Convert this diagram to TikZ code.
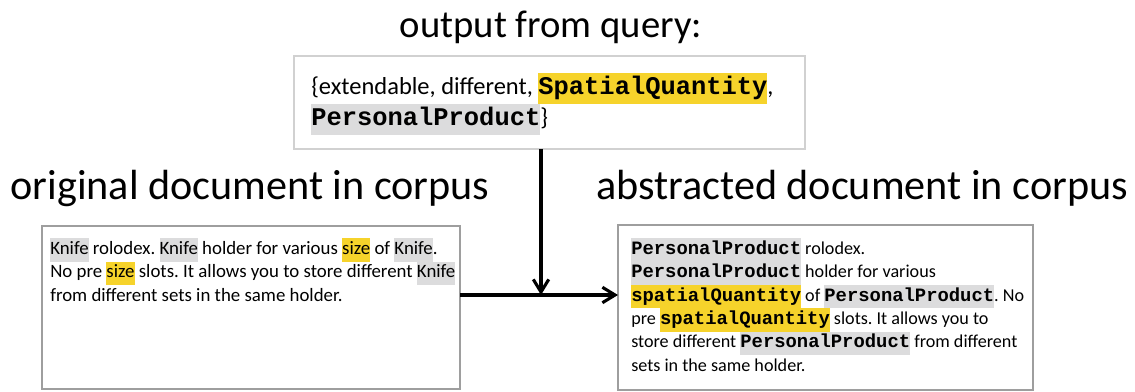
\documentclass[tikz,border=0pt]{standalone}
\usepackage{fontspec}
\setmainfont{Carlito}
\setmonofont[Scale=1.04]{Liberation Mono}
\usepackage{xcolor}
\usetikzlibrary{calc}
\usetikzlibrary{arrows.meta}
\tikzset{>={Straight Barb[length=9pt,width=11pt]}}
\frenchspacing

\definecolor{hlyellow}{HTML}{F6D32B}
\definecolor{hlgray}{HTML}{DCDCDD}
\setlength{\fboxsep}{0pt}
\newcommand{\gs}[1]{\colorbox{hlgray}{\strut #1}}
\newcommand{\ys}[1]{\colorbox{hlyellow}{\strut #1}}
\newcommand{\gm}[1]{\colorbox{hlgray}{\strut\texttt{\textbf{#1}}}}
\newcommand{\ym}[1]{\colorbox{hlyellow}{\strut\texttt{\textbf{#1}}}}

\begin{document}
\begin{tikzpicture}[x=0.025cm, y=-0.025cm]

	\useasboundingbox (0,0) rectangle (1135,392);

	%% Boxes
	\coordinate[](qa) at (294,56);
	\coordinate[](qb) at (805,149);
	\coordinate[](oa) at (42,226);
	\coordinate[](ob) at (460,389);
	\coordinate[](aa) at (618,225);
	\coordinate[](ab) at (1033,390);

	%% Arrows
	\coordinate[](qs) at (541,149);
	\coordinate[](j) at (541,295);
	\coordinate[](os) at (460,295);
	\coordinate[](ae) at (618,295);

	\draw[line width=1pt, draw=black!18] (qa) rectangle (qb);
	\draw[line width=1pt, draw=black!38] (oa) rectangle (ob);
	\draw[line width=1pt, draw=black!38] (aa) rectangle (ab);

	% Titles
	\node[anchor=base, font=\fontsize{27.5}{33}\selectfont] (tq) at (551,38) {output from query:};
	\node[anchor=base, font=\fontsize{30}{36}\selectfont] (to) at (250,200) {original document in corpus};
	\node[anchor=base, font=\fontsize{30}{36}\selectfont] (ta) at (862,200) {abstracted document in corpus};

	% Texts
	\node[anchor=north west, inner sep=0pt, align=left, font=\fontsize{17.4}{22}\selectfont]
	(qt) at (311,73) {\strut\{extendable, different, \ym{SpatialQuantity},\\
	\gm{PersonalProduct}\}};

	\node[anchor=north west, inner sep=0pt, align=left, font=\fontsize{13.4}{16.6}\selectfont]
	(ot) at (50,238) {\gs{Knife} rolodex. \gs{Knife} holder for various \ys{size} of \gs{Knife}.\\
	No pre \ys{size} slots. It allows you to store different \gs{Knife}\\
	\strut from different sets in the same holder.};

	\node[anchor=north west, inner sep=0pt, align=left, font=\fontsize{12.9}{16.6}\selectfont]
	(at) at (631,238) {\gm{PersonalProduct} rolodex.\\
	\gm{PersonalProduct} holder for various\\
	\ym{spatialQuantity} of \gm{PersonalProduct}. No\\
	\strut pre \ym{spatialQuantity} slots. It allows you to\\
	\strut store different \gm{PersonalProduct} from different\\
	\strut sets in the same holder.};

	%% Load
	\begin{scope}[->, line width=2.2pt]
	\draw (qs) -- (j);
	\draw (os) -- (ae);
	\end{scope}

\end{tikzpicture}
\end{document}
